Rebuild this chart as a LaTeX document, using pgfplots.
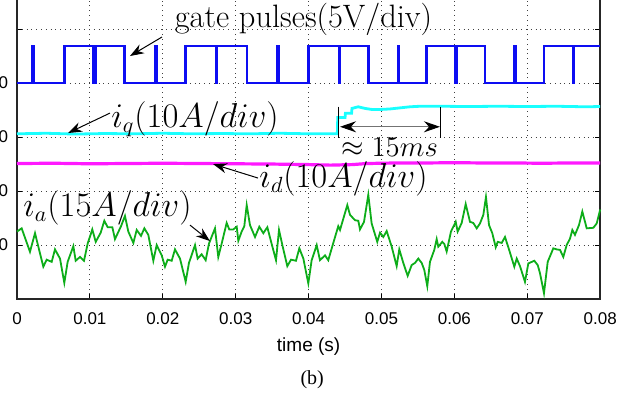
\documentclass[border=0pt]{standalone}
\usepackage{fontspec}
\usepackage{pgfplots}
\pgfplotsset{compat=1.18}
\usetikzlibrary{arrows.meta}
\newfontfamily\sansf{Liberation Sans}
\newfontfamily\timesf{Liberation Serif}
\definecolor{gblue}{rgb}{0.05,0.05,0.95}
\definecolor{gcyan}{rgb}{0.1,1,1}
\definecolor{gmag}{rgb}{1,0.1,1}
\definecolor{ggreen}{rgb}{0.05,0.68,0.1}
\newcommand{\annfont}{\fontsize{16.2}{19}\selectfont}
\begin{document}
\begin{tikzpicture}
\begin{axis}[
  scale only axis, width=291.5pt, height=162pt,
  xmin=0, xmax=0.08, ymin=0, ymax=6,
  clip=false,
  scaled x ticks=false,
  xtick={0,0.01,0.02,0.03,0.04,0.05,0.06,0.07,0.08},
  xticklabels={0,0.01,0.02,0.03,0.04,0.05,0.06,0.07,0.08},
  ytick={1,2,3,4,5},
  yticklabels={0,0,0,0,{}},
  grid=major,
  grid style={dotted, black!75, line width=0.45pt},
  tick align=inside, major tick length=2.5pt,
  tick style={black, line width=0.5pt},
  axis line style={black!85, line width=0.8pt},
  xticklabel style={font=\sansf\fontsize{8.5}{10}\selectfont, anchor=north, inner sep=0pt, yshift=-6.5pt},
  yticklabel style={font=\sansf\fontsize{8.5}{10}\selectfont, anchor=east, inner sep=0pt, xshift=-4.25pt},
  xlabel={time (s)},
  xlabel style={font=\sansf\fontsize{9.5}{11}\selectfont, at={(axis description cs:0.5,-0.148)}, anchor=center},
]
% gate pulses
\addplot[gblue, line width=1.2pt, line join=miter] coordinates {
(0,4.0) (0.00205,4.0) (0.00205,4.68) (0.00225,4.68) (0.00225,4.0) (0.00649,4.0) (0.00649,4.68)
(0.01052,4.68) (0.01052,4.0) (0.01078,4.0) (0.01078,4.68) (0.01472,4.68) (0.01472,4.0)
(0.01897,4.0) (0.01897,4.68) (0.01912,4.68) (0.01912,4.0) (0.02314,4.0) (0.02314,4.68)
(0.02727,4.68) (0.02727,4.0) (0.02744,4.0) (0.02744,4.68) (0.03151,4.68) (0.03151,4.0)
(0.03572,4.0) (0.03572,4.68) (0.03589,4.68) (0.03589,4.0) (0.03996,4.0) (0.03996,4.68)
(0.04413,4.68) (0.04413,4.0) (0.04428,4.0) (0.04428,4.68) (0.04819,4.68) (0.04819,4.0)
(0.05225,4.0) (0.05225,4.68) (0.05240,4.68) (0.05240,4.0) (0.05620,4.0) (0.05620,4.68)
(0.06012,4.68) (0.06012,4.0) (0.06028,4.0) (0.06028,4.68) (0.06420,4.68) (0.06420,4.0)
(0.06826,4.0) (0.06826,4.68) (0.06841,4.68) (0.06841,4.0) (0.07233,4.0) (0.07233,4.68)
(0.07626,4.68) (0.07626,4.0) (0.07638,4.0) (0.07638,4.68) (0.08,4.68)
};
% i_q
\addplot[gcyan, line width=1.4pt] coordinates {
(0,3.06) (0.004,3.07) (0.008,3.055) (0.012,3.065) (0.016,3.06) (0.02,3.07) (0.024,3.06)
(0.028,3.065) (0.032,3.06) (0.036,3.07) (0.04,3.06) (0.04394,3.06) (0.04400,3.36)
(0.0450,3.36) (0.04505,3.44) (0.0459,3.44) (0.04595,3.53) (0.0468,3.56) (0.04774,3.53)
(0.0487,3.51) (0.0498,3.51) (0.05117,3.52) (0.05254,3.54) (0.0539,3.56) (0.05528,3.57)
(0.058,3.57) (0.062,3.565) (0.066,3.57) (0.07,3.565) (0.074,3.57) (0.078,3.56) (0.08,3.565)
};
% i_d
\addplot[gmag, line width=1.6pt] coordinates {
(0,2.51) (0.005,2.515) (0.01,2.505) (0.015,2.51) (0.02,2.515) (0.025,2.51) (0.03,2.505)
(0.035,2.5) (0.04,2.49) (0.043,2.48) (0.046,2.49) (0.048,2.51) (0.052,2.52) (0.056,2.52)
(0.06,2.525) (0.064,2.52) (0.068,2.52) (0.072,2.515) (0.076,2.52) (0.08,2.52)
};
% i_a
\addplot[ggreen, line width=0.9pt] coordinates {
(0,1.25) (0.00064,1.31) (0.00178,0.876) (0.00247,1.22) (0.00361,0.60) (0.00407,0.73)
(0.00476,0.69) (0.00521,0.92) (0.0059,0.75) (0.00649,0.30) (0.00695,0.69) (0.00773,0.98)
(0.00805,0.71) (0.00864,0.78) (0.00919,0.71) (0.0097,1.03) (0.01033,1.29) (0.0108,1.06)
(0.01148,1.23) (0.01198,1.45) (0.01244,1.33) (0.01308,1.33) (0.01344,1.11) (0.01427,1.35)
(0.01481,1.54) (0.01527,1.25) (0.01596,1.04) (0.01642,1.28) (0.01701,1.17) (0.01747,1.31)
(0.01801,1.19) (0.0187,0.71) (0.01916,1.0) (0.01985,0.81) (0.0203,0.60) (0.02067,0.73)
(0.02122,0.71) (0.02167,0.92) (0.02236,0.75) (0.02314,0.32) (0.02359,0.67) (0.02442,1.0)
(0.02478,0.75) (0.02533,0.83) (0.02588,0.72) (0.02634,1.03) (0.02716,1.31) (0.02761,0.78)
(0.02808,1.03) (0.02876,1.41) (0.02912,1.29) (0.02967,1.29) (0.03014,1.34) (0.03036,1.08)
(0.03082,1.25) (0.03118,1.35) (0.03151,1.74) (0.03196,1.37) (0.03265,1.15) (0.03324,1.34)
(0.03379,1.22) (0.03434,1.33) (0.0348,1.09) (0.03553,0.72) (0.03594,1.28) (0.03645,0.97)
(0.03708,0.61) (0.03759,0.73) (0.03827,0.71) (0.03873,0.94) (0.03928,0.75) (0.03996,0.29)
(0.04042,0.72) (0.04111,1.0) (0.04156,0.72) (0.04225,0.81) (0.0427,0.72) (0.04339,1.04)
(0.04407,1.35) (0.04431,1.28) (0.04531,1.74) (0.04568,1.56) (0.04637,1.46) (0.04682,1.45)
(0.04705,1.29) (0.0476,1.43) (0.04819,1.93) (0.04865,1.40) (0.04942,1.06) (0.0498,1.23)
(0.05025,1.15) (0.05071,1.26) (0.0514,0.97) (0.05208,0.61) (0.05244,0.92) (0.05299,0.67)
(0.05359,0.43) (0.05414,0.63) (0.0546,0.67) (0.05505,0.75) (0.05551,0.67) (0.05587,0.54)
(0.05628,0.24) (0.05665,0.69) (0.05724,0.91) (0.05757,1.11) (0.05779,0.97) (0.05834,1.06)
(0.05862,1.02) (0.05894,0.88) (0.05953,1.25) (0.06018,1.43) (0.06045,1.25) (0.061,1.41)
(0.06155,1.76) (0.06214,1.43) (0.06259,1.41) (0.06306,1.31) (0.06351,1.40) (0.06397,1.56)
(0.06433,1.89) (0.06475,1.37) (0.0652,1.22) (0.06567,0.96) (0.06594,1.06) (0.06649,1.04)
(0.06694,1.15) (0.06749,0.92) (0.06822,0.60) (0.06855,0.75) (0.069,0.61) (0.06968,0.32)
(0.07014,0.66) (0.07096,0.71) (0.07143,0.63) (0.07174,0.48) (0.07229,0.11) (0.0728,0.69)
(0.07357,0.94) (0.07403,0.92) (0.07449,0.91) (0.07494,0.78) (0.0754,1.0) (0.07586,1.12)
(0.07618,1.28) (0.07654,1.19) (0.07709,1.37) (0.07755,1.62) (0.07815,1.31) (0.07906,1.32)
(0.07952,1.40) (0.08,1.66)
};
% annotations
\node[anchor=base, font=\annfont, inner sep=0pt] at (axis cs:0.0393,5.024) {gate pulses(5V/div)};
\node[anchor=base, font=\annfont, inner sep=0pt] at (axis cs:0.02442,3.172) {$i_q(10A/div)$};
\node[anchor=base, font=\annfont, inner sep=0pt] at (axis cs:0.04479,2.065) {$i_d(10A/div)$};
\node[anchor=base, font=\annfont, inner sep=0pt] at (axis cs:0.01241,1.528) {$i_a(15A/div)$};
\node[anchor=base, font=\fontsize{15.2}{18}\selectfont, inner sep=0pt] at (axis cs:0.0511,2.645) {$\approx 15ms$};
\draw[-{Stealth[length=7pt,width=5pt]}, line width=0.5pt, black] (axis cs:0.01989,4.852) -- (axis cs:0.0155,4.5);
\draw[-{Stealth[length=7pt,width=5pt]}, line width=0.5pt, black] (axis cs:0.01276,3.444) -- (axis cs:0.0070,3.074);
\draw[-{Stealth[length=7pt,width=5pt]}, line width=0.5pt, black] (axis cs:0.03306,2.241) -- (axis cs:0.02689,2.5);
\draw[-{Stealth[length=7pt,width=5pt]}, line width=0.5pt, black] (axis cs:0.02373,1.370) -- (axis cs:0.02647,1.074);
\draw[{Stealth[length=8pt,width=5.5pt,black]}-{Stealth[length=8pt,width=5.5pt,black]}, line width=0.5pt, black!55] (axis cs:0.04431,3.19) -- (axis cs:0.05802,3.19);
\draw[black, line width=0.6pt] (axis cs:0.04407,3.561) -- (axis cs:0.04407,2.976);
\draw[black, line width=0.6pt] (axis cs:0.05812,3.561) -- (axis cs:0.05812,2.976);
\node[font=\timesf\fontsize{10}{12}\selectfont] at (axis cs:0.0405,-1.5) {(b)};
\coordinate (bbA) at (axis cs:-0.002332,5.537);
\coordinate (bbB) at (axis cs:0.084774,-1.759);
\end{axis}
\pgfresetboundingbox
\useasboundingbox (bbA) rectangle (bbB);
\end{tikzpicture}
\end{document}
